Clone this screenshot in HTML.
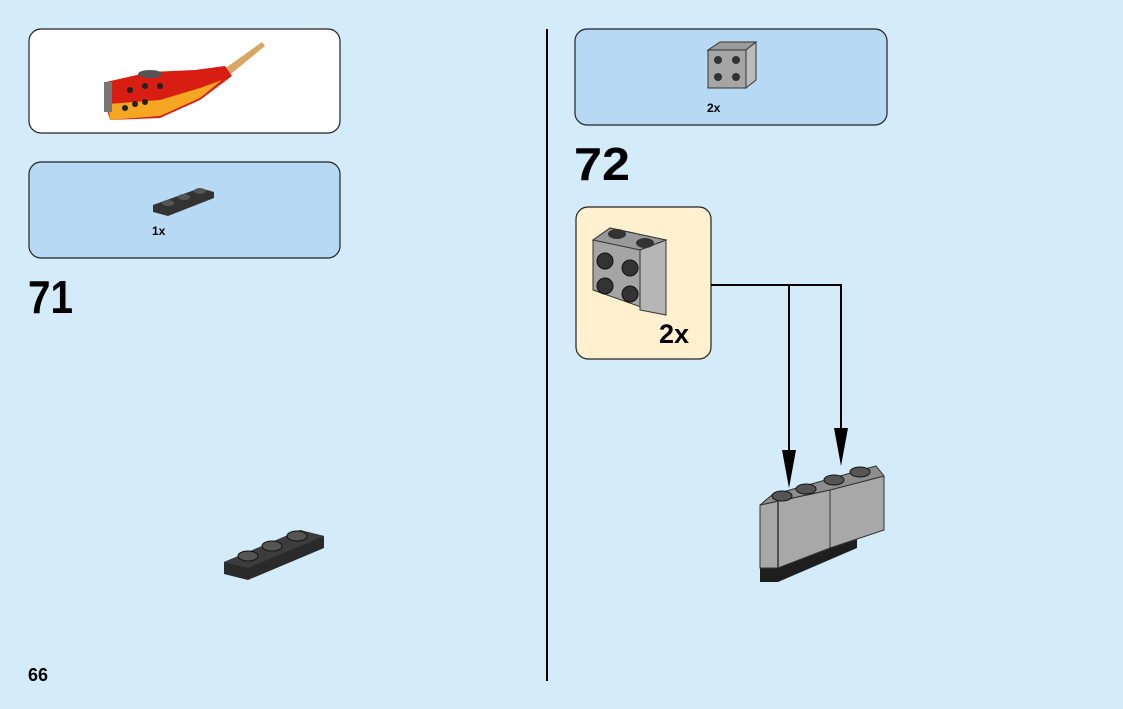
<!DOCTYPE html>
<html><head><style>
html,body{margin:0;padding:0;background:#d4ebfa;}
svg{display:block;}
text{font-family:"Liberation Sans",sans-serif;font-weight:bold;fill:#000;}
</style></head><body>
<svg width="1123" height="709" viewBox="0 0 1123 709" xmlns="http://www.w3.org/2000/svg">
<rect width="1123" height="709" fill="#d4ebfa"/>
<rect x="29" y="29" width="311" height="104" rx="12" fill="#fff" stroke="#222" stroke-width="1.2"/>
<polygon points="220,72 262,42 265,46 226,78" fill="#d6a864"/>
<polygon points="106,82 150,72 195,70 225,66 232,76 200,100 160,118 110,120 104,100" fill="#d81d12"/>
<polygon points="108,104 160,100 200,88 222,80 200,98 160,116 110,120" fill="#f5a623"/>
<rect x="104" y="82" width="8" height="30" fill="#777"/>
<ellipse cx="150" cy="74" rx="12" ry="4" fill="#555"/>
<g fill="#222"><circle cx="125" cy="108" r="3"/><circle cx="135" cy="104" r="3"/><circle cx="145" cy="102" r="3"/><circle cx="130" cy="90" r="3"/><circle cx="145" cy="86" r="3"/><circle cx="160" cy="86" r="3"/></g>

<rect x="29" y="162" width="311" height="96" rx="12" fill="#b8d9f3" stroke="#222" stroke-width="1.2"/>
<polygon points="153,205 200,188 214,192 214,198 168,216 153,212" fill="#333"/>
<g fill="#555"><ellipse cx="168" cy="203" rx="6" ry="3"/><ellipse cx="184" cy="197" rx="6" ry="3"/><ellipse cx="200" cy="191" rx="6" ry="3"/></g>
<text x="152" y="235" font-size="12">1x</text>
<text x="28" y="313" font-size="46" textLength="45" lengthAdjust="spacingAndGlyphs">71</text>
<polygon points="224,562 300,530 324,536 324,548 248,580 224,574" fill="#2a2a2a"/>
<polygon points="224,562 300,530 324,536 248,568" fill="#3c3c3c"/>
<g fill="#555" stroke="#111"><ellipse cx="248" cy="556" rx="10" ry="5"/><ellipse cx="272" cy="546" rx="10" ry="5"/><ellipse cx="297" cy="536" rx="10" ry="5"/></g>
<text x="28" y="681" font-size="18">66</text>
<line x1="547" y1="29" x2="547" y2="681" stroke="#000" stroke-width="2"/>
<rect x="575" y="29" width="312" height="96" rx="12" fill="#b8d9f3" stroke="#222" stroke-width="1.2"/>
<rect x="708" y="50" width="38" height="38" fill="#a5a5a5" stroke="#333"/>
<polygon points="708,50 720,42 756,42 746,50" fill="#9a9a9a" stroke="#333"/>
<polygon points="746,50 756,42 756,80 746,88" fill="#bbb" stroke="#333"/>
<g fill="#333"><circle cx="718" cy="60" r="4"/><circle cx="736" cy="60" r="4"/><circle cx="718" cy="77" r="4"/><circle cx="736" cy="77" r="4"/></g>
<text x="707" y="112" font-size="12">2x</text>
<text x="574" y="180" font-size="46" textLength="56" lengthAdjust="spacingAndGlyphs">72</text>
<rect x="576" y="207" width="135" height="152" rx="12" fill="#fff0cf" stroke="#222" stroke-width="1.2"/>
<polygon points="593,240 610,228 666,240 666,315 655,312 593,290" fill="#a5a5a5" stroke="#333"/>
<polygon points="593,240 640,250 666,240 610,228" fill="#999" stroke="#333"/>
<polygon points="640,250 666,240 666,315 640,310" fill="#b5b5b5" stroke="#333"/>
<ellipse cx="617" cy="234" rx="9" ry="5" fill="#333"/><ellipse cx="645" cy="243" rx="9" ry="5" fill="#333"/>
<g fill="#333" stroke="#111"><circle cx="605" cy="261" r="8"/><circle cx="630" cy="268" r="8"/><circle cx="605" cy="286" r="8"/><circle cx="630" cy="294" r="8"/></g>
<text x="659" y="343" font-size="27">2x</text>
<polyline points="711,285 841,285 841,440" fill="none" stroke="#000" stroke-width="2"/>
<line x1="789" y1="285" x2="789" y2="460" stroke="#000" stroke-width="2"/>
<polygon points="782,450 796,450 789,488" fill="#000"/>
<polygon points="834,428 848,428 841,466" fill="#000"/>
<!-- bricks assembly -->
<polygon points="760,560 857,535 857,548 778,582 760,582" fill="#1e1e1e"/>
<polygon points="760,505 830,490 830,548 778,568 760,568" fill="#a8a8a8" stroke="#333"/>
<polygon points="830,490 884,476 884,530 830,548" fill="#a8a8a8" stroke="#333"/>
<polygon points="760,505 772,495 876,466 884,476 830,490" fill="#8e8e8e" stroke="#333"/>
<line x1="778" y1="502" x2="778" y2="568" stroke="#333" stroke-width="1.5"/>
<g fill="#555" stroke="#111"><ellipse cx="782" cy="496" rx="10" ry="5"/><ellipse cx="806" cy="489" rx="10" ry="5"/><ellipse cx="834" cy="480" rx="10" ry="5"/><ellipse cx="860" cy="472" rx="10" ry="5"/></g>
</svg>
</body></html>
